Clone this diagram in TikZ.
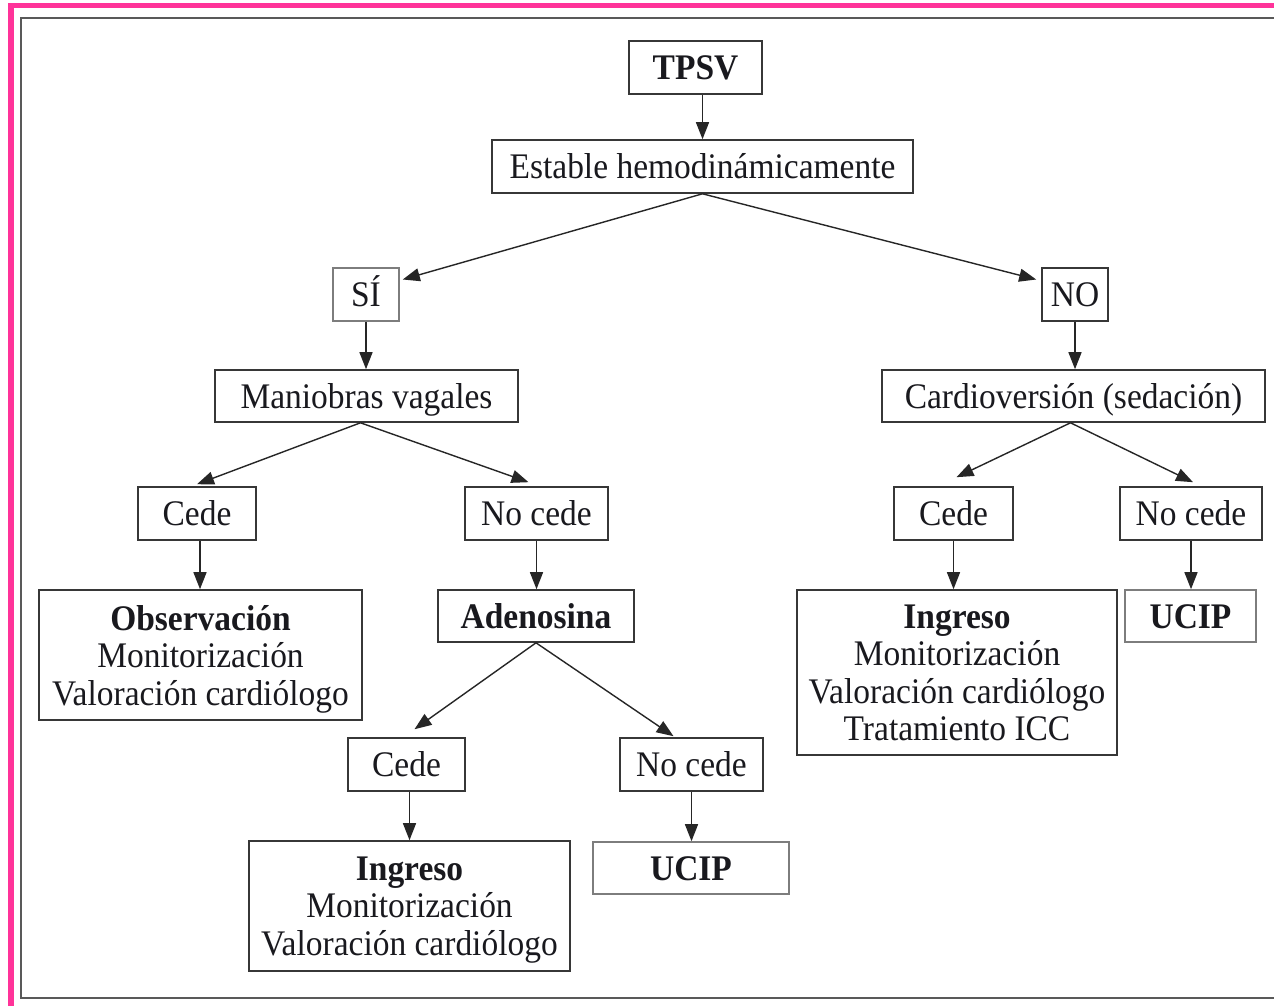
\documentclass[tikz,border=0pt]{standalone}
\usepackage{fontspec}
\setmainfont{Liberation Serif}[FakeStretch=0.93]
\usetikzlibrary{arrows.meta,calc}
\definecolor{pinkb}{RGB}{255,51,153}
\definecolor{boxc}{RGB}{55,55,55}
\definecolor{lightc}{RGB}{125,125,125}
\definecolor{txt}{RGB}{25,25,30}
\begin{document}
\begin{tikzpicture}[x=1pt,y=-1pt,
  box/.style={draw=boxc, line width=1.6pt, inner sep=0pt, align=center,
    font=\fontsize{36}{37.5}\selectfont, text=txt, text height=24.5pt, text depth=0pt},
  mbox/.style={draw=boxc, line width=1.6pt, inner sep=0pt, align=center,
    font=\fontsize{36}{37.5}\selectfont, text=txt, text depth=0pt},
  lbox/.style={box, draw=lightc},
  arr/.style={-{Triangle[length=17pt,width=13pt]}, line width=1.4pt, draw=black!85}]
\useasboundingbox (0,0) rectangle (1274,1006);
\fill[white] (0,0) rectangle (1274,1006);
% outer decorations
\fill[pinkb] (8,3) rectangle (1274,8.5);
\fill[pinkb] (8,3) rectangle (14,1006);
\draw[line width=2pt, draw=black!65] (1280,18) -- (21,18) -- (21,998) -- (1280,998);
% nodes
\node[box, minimum width=133pt, minimum height=53pt] (tpsv) at (695.5,67.5) {\textbf{TPSV}};
\node[box, minimum width=421pt, minimum height=53pt] (est) at (702.5,166.5) {Estable hemodinámicamente};
\node[lbox, minimum width=66pt, minimum height=53pt] (si) at (366,294.5) {SÍ};
\node[box, minimum width=66pt, minimum height=53pt] (no) at (1075,294.5) {NO};
\node[box, minimum width=303pt, minimum height=52pt] (mv) at (366.5,396) {Maniobras vagales};
\node[box, minimum width=383pt, minimum height=52pt] (cv) at (1073.5,396) {Cardioversión (sedación)};
\node[box, minimum width=118pt, minimum height=53pt] (cedeL) at (197,513.5) {Cede};
\node[box, minimum width=143pt, minimum height=53pt] (ncL) at (536.5,513.5) {No cede};
\node[box, minimum width=119pt, minimum height=53pt] (cedeR) at (953.5,513.5) {Cede};
\node[box, minimum width=142pt, minimum height=53pt] (ncR) at (1191,513.5) {No cede};
\node[mbox, minimum width=323pt, minimum height=130pt] (obs) at (200.5,655) {\textbf{Observación}\\Monitorización\\Valoración cardiólogo};
\node[box, minimum width=196pt, minimum height=52pt] (ade) at (536,616) {\textbf{Adenosina}};
\node[mbox, minimum width=320pt, minimum height=165pt] (ingR) at (957,672.5) {\textbf{Ingreso}\\Monitorización\\Valoración cardiólogo\\Tratamiento ICC};
\node[lbox, minimum width=131pt, minimum height=52pt] (ucipR) at (1190.5,616) {\textbf{UCIP}};
\node[box, minimum width=117pt, minimum height=53pt] (cede2) at (406.5,764.5) {Cede};
\node[box, minimum width=143pt, minimum height=53pt] (nc2) at (691.5,764.5) {No cede};
\node[mbox, minimum width=321pt, minimum height=130pt] (ingL) at (409.5,906) {\textbf{Ingreso}\\Monitorización\\Valoración cardiólogo};
\node[lbox, minimum width=196pt, minimum height=52pt] (ucip2) at (691,868) {\textbf{UCIP}};
% connectors
\draw[arr] (tpsv.south -| est.north) -- (est.north);
\draw[arr] (est.south) -- ([xshift=3pt,yshift=15pt]si.east);
\draw[arr] (est.south) -- ([xshift=-5pt,yshift=15pt]no.west);
\draw[arr] (si.south) -- (si.south |- mv.north);
\draw[arr] (no.south) -- (no.south |- cv.north);
\draw[arr] ([xshift=-6pt]mv.south) -- ([yshift=2pt]cedeL.north);
\draw[arr] ([xshift=-6pt]mv.south) -- ([xshift=-8pt,yshift=4pt]ncL.north);
\draw[arr] ([xshift=-3pt]cv.south) -- ([xshift=3pt,yshift=9pt]cedeR.north);
\draw[arr] ([xshift=-3pt]cv.south) -- ([xshift=2pt,yshift=4pt]ncR.north);
\draw[arr] ([xshift=3pt]cedeL.south) -- ([xshift=3pt]cedeL.south |- obs.north);
\draw[arr] (ncL.south) -- (ncL.south |- ade.north);
\draw[arr] (cedeR.south) -- (cedeR.south |- ingR.north);
\draw[arr] (ncR.south) -- (ncR.south |- ucipR.north);
\draw[arr] (ade.south) -- ([xshift=8pt,yshift=8pt]cede2.north);
\draw[arr] (ade.south) -- ([xshift=-18pt,yshift=1pt]nc2.north);
\draw[arr] ([xshift=3pt]cede2.south) -- ([xshift=3pt]cede2.south |- ingL.north);
\draw[arr] (nc2.south) -- (nc2.south |- ucip2.north);
\end{tikzpicture}
\end{document}
